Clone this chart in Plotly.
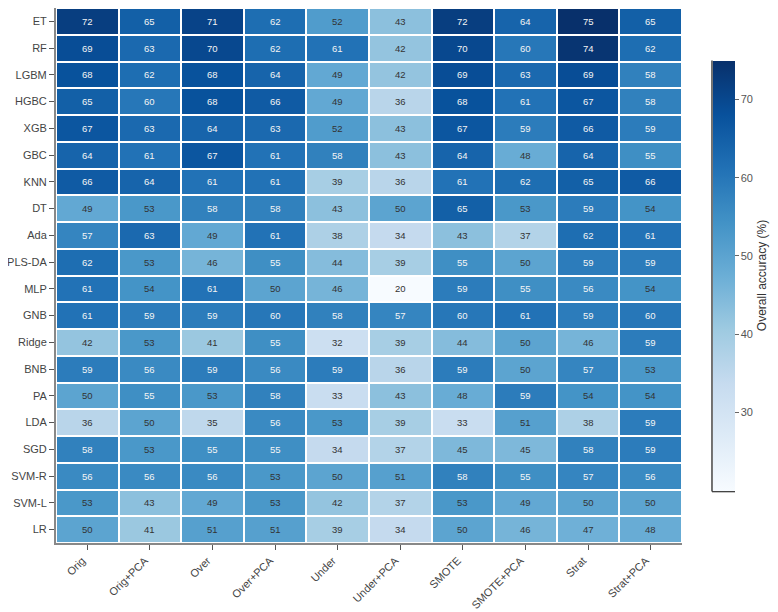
import plotly.graph_objects as go
import plotly.express as px

models = ["ET", "RF", "LGBM", "HGBC", "XGB", "GBC", "KNN", "DT", "Ada", "PLS-DA",
          "MLP", "GNB", "Ridge", "BNB", "PA", "LDA", "SGD", "SVM-R", "SVM-L", "LR"]
strategies = ["Orig", "Orig+PCA", "Over", "Over+PCA", "Under", "Under+PCA",
              "SMOTE", "SMOTE+PCA", "Strat", "Strat+PCA"]

# overall accuracy (%) per model, one value per strategy
et = [72, 65, 71, 62, 52, 43, 72, 64, 75, 65]
rf = [69, 63, 70, 62, 61, 42, 70, 60, 74, 62]
lgbm = [68, 62, 68, 64, 49, 42, 69, 63, 69, 58]
hgbc = [65, 60, 68, 66, 49, 36, 68, 61, 67, 58]
xgb = [67, 63, 64, 63, 52, 43, 67, 59, 66, 59]
gbc = [64, 61, 67, 61, 58, 43, 64, 48, 64, 55]
knn = [66, 64, 61, 61, 39, 36, 61, 62, 65, 66]
dt = [49, 53, 58, 58, 43, 50, 65, 53, 59, 54]
ada = [57, 63, 49, 61, 38, 34, 43, 37, 62, 61]
plsda = [62, 53, 46, 55, 44, 39, 55, 50, 59, 59]
mlp = [61, 54, 61, 50, 46, 20, 59, 55, 56, 54]
gnb = [61, 59, 59, 60, 58, 57, 60, 61, 59, 60]
ridge = [42, 53, 41, 55, 32, 39, 44, 50, 46, 59]
bnb = [59, 56, 59, 56, 59, 36, 59, 50, 57, 53]
pa = [50, 55, 53, 58, 33, 43, 48, 59, 54, 54]
lda = [36, 50, 35, 56, 53, 39, 33, 51, 38, 59]
sgd = [58, 53, 55, 55, 34, 37, 45, 45, 58, 59]
svm_r = [56, 56, 56, 53, 50, 51, 58, 55, 57, 56]
svm_l = [53, 43, 49, 53, 42, 37, 53, 49, 50, 50]
lr = [50, 41, 51, 51, 39, 34, 50, 46, 47, 48]

z = [et, rf, lgbm, hgbc, xgb, gbc, knn, dt, ada, plsda,
     mlp, gnb, ridge, bnb, pa, lda, sgd, svm_r, svm_l, lr]

FONT = "Liberation Sans, Arial, Helvetica, sans-serif"

# colorbar placement (paper coords); plot area is 626 x 535 px
PW, PH = 626, 535
cb_x, cb_len, cb_y = 1.0495, 0.804, 0.5
cb_thick = 22

fig = go.Figure(go.Heatmap(
    z=z, x=strategies, y=models,
    colorscale=px.colors.sequential.Blues,
    zmin=20, zmax=75,
    xgap=2, ygap=2,
    hovertemplate="%{y} / %{x}: %{z}<extra></extra>",
    colorbar=dict(
        title=dict(text="Overall accuracy (%)", side="right",
                   font=dict(size=12, color="#333")),
        thickness=cb_thick, thicknessmode="pixels",
        len=cb_len, y=cb_y, yanchor="middle", ypad=0,
        x=cb_x, xanchor="left", xpad=0,
        outlinewidth=0,
        ticks="outside", ticklen=4, tickcolor="#666",
        tickvals=[30, 40, 50, 60, 70],
        tickfont=dict(size=11, color="#555"),
    ),
))

# cell labels, light on dark cells and dark on light cells
for i, m in enumerate(models):
    for j, s in enumerate(strategies):
        v = z[i][j]
        fig.add_annotation(x=s, y=m, text=str(v), showarrow=False,
                           font=dict(size=9.5, family=FONT,
                                     color="#f4f4f4" if v >= 55 else "#333333"))

# colorbar frame: left and bottom edges only (nudged 1px outside the bar)
bot = cb_y - cb_len / 2 - 1 / PH
lx = cb_x - 1 / PW
fig.add_shape(type="line", xref="paper", yref="paper",
              x0=lx, x1=lx, y0=bot, y1=cb_y + cb_len / 2,
              line=dict(color="#444", width=1.5))
fig.add_shape(type="line", xref="paper", yref="paper",
              x0=lx, x1=cb_x + cb_thick / PW, y0=bot, y1=bot,
              line=dict(color="#444", width=1.5))

fig.update_layout(
    width=770, height=604,
    margin=dict(l=48, r=96, t=0, b=69),
    plot_bgcolor="white", paper_bgcolor="white",
    font=dict(family=FONT, color="#444"),
)
fig.update_xaxes(showline=True, linecolor="#888", linewidth=2,
                 ticks="outside", ticklen=5, tickcolor="#555",
                 tickangle=-45, tickfont=dict(size=11, color="#444"),
                 ticklabelshift=-5,
                 automargin=False, showgrid=False, zeroline=False)
fig.update_yaxes(showline=True, linecolor="#888", linewidth=2,
                 ticks="outside", ticklen=5, tickcolor="#555",
                 autorange="reversed", tickfont=dict(size=11, color="#444"),
                 automargin=False, showgrid=False, zeroline=False)

fig.write_html("out.html")
